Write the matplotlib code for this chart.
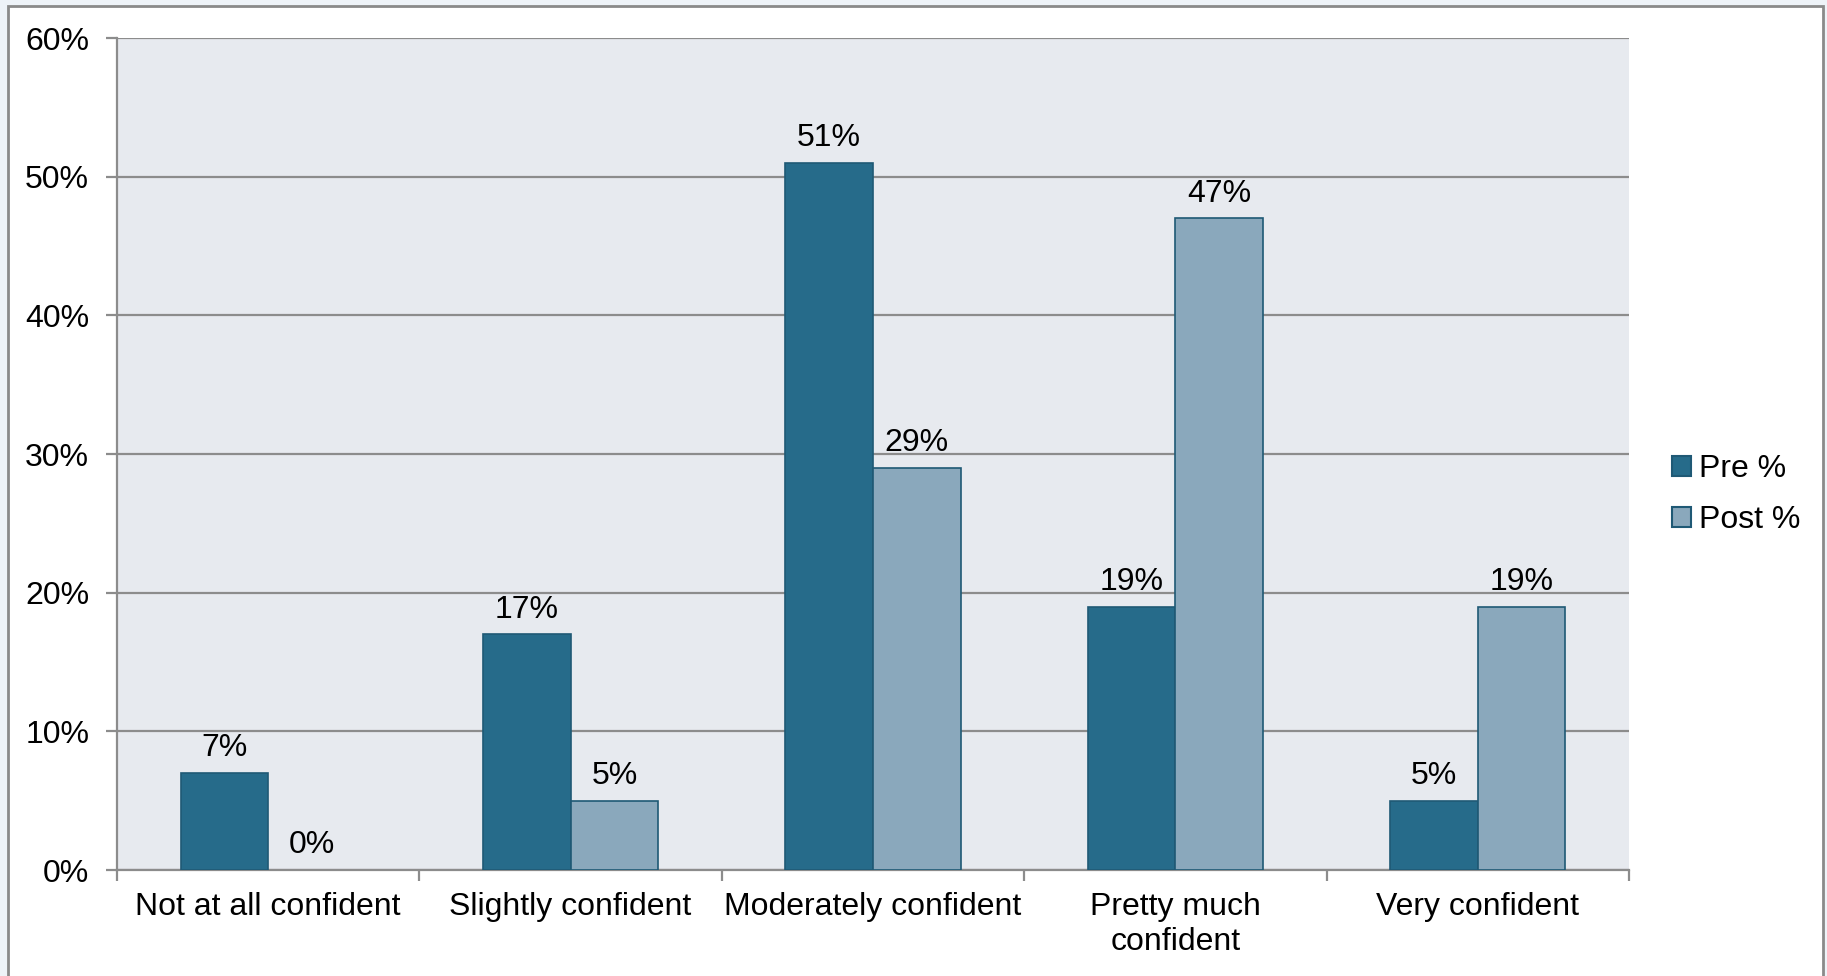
import numpy as np
import matplotlib.pyplot as plt
from matplotlib.patches import Rectangle

plt.rcParams['font.family'] = ['Liberation Sans', 'DejaVu Sans']

categories = ['Not at all confident', 'Slightly confident', 'Moderately confident',
              'Pretty much\nconfident', 'Very confident']
pre = [7, 17, 51, 19, 5]
post = [0, 5, 29, 47, 19]
yticks = [0, 10, 20, 30, 40, 50, 60]

fig = plt.figure(figsize=(18.27, 9.76), dpi=100)
fig.patch.set_facecolor('#eef3f8')
# white chart area with grey frame
fig.patches.append(Rectangle((8/1827, -0.02), (1823-8)/1827, 1.02-6/976,
                             transform=fig.transFigure, facecolor='white',
                             edgecolor='#8a8a8a', linewidth=2, zorder=-1))
ax = fig.add_axes([117/1827, 1-870/976, (1629-117)/1827, (870-38)/976])
ax.set_facecolor('#e7eaef')

x = np.arange(len(categories))
w = 0.29
b1 = ax.bar(x - w/2, pre, w, color='#266b8a', edgecolor='#1f5975', linewidth=1.2, label='Pre %', zorder=3)
b2 = ax.bar(x + w/2, post, w, color='#8aa8bc', edgecolor='#1f5975', linewidth=1.2, label='Post %', zorder=3)
for bars, vals in [(b1, pre), (b2, post)]:
    for r, v in zip(bars, vals):
        if v == 0:
            r.set_linewidth(0)  # no outline for an empty bar
        ax.annotate(f'{v}%', (r.get_x() + r.get_width()/2, v), xytext=(0, 7),
                    textcoords='offset points', ha='center', va='bottom', fontsize=23)

ax.set_xlim(-0.5, len(categories) - 0.5)
ax.set_ylim(0, 60)
ax.set_yticks(yticks)
ax.set_yticklabels([f'{t}%' for t in yticks])
ax.yaxis.grid(True, color='#8c8c8c', linewidth=1.6, zorder=1)
ax.set_axisbelow(True)

# boundary ticks between groups, labels in the middle
ax.set_xticks(np.arange(-0.5, len(categories)))
ax.set_xticklabels([])
ax.set_xticks(x, minor=True)
ax.set_xticklabels(categories, minor=True)
ax.tick_params(axis='x', which='major', length=8, width=1.6, color='#8c8c8c')
ax.tick_params(axis='x', which='minor', length=0, pad=16, labelsize=23)
ax.tick_params(axis='y', length=8, width=1.6, color='#8c8c8c', pad=12, labelsize=23)

for s in ['top', 'right']:
    ax.spines[s].set_visible(False)
for s in ['left', 'bottom']:
    ax.spines[s].set_color('#8c8c8c')
    ax.spines[s].set_linewidth(1.6)

leg = fig.legend(handles=[b1, b2], loc='center left', bbox_to_anchor=(1672/1827, 0.493), frameon=False,
                 fontsize=23, handlelength=0.6, handleheight=0.6, handletextpad=0.25, labelspacing=0.65,
                 borderaxespad=0, borderpad=0)
for h in leg.legend_handles:
    h.set_edgecolor('#1f5975')
    h.set_linewidth(1.5)

fig.savefig('out.png', dpi=100, facecolor=fig.get_facecolor())
